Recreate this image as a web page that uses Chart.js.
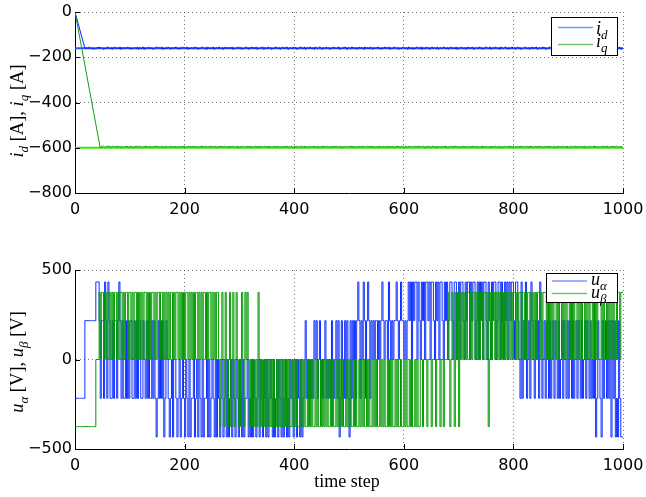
<!DOCTYPE html>
<html><head><meta charset="utf-8">
<script src="https://cdn.jsdelivr.net/npm/chart.js@4/dist/chart.umd.min.js"></script>
<style>
html,body{margin:0;padding:0;background:#fff;}
#wrap{position:relative;width:646px;height:497px;background:#fff;}
#c1{position:absolute;left:0;top:0;width:646px;height:250px;}
#c2{position:absolute;left:0;top:250px;width:646px;height:247px;}
</style></head><body>
<div id="wrap"><canvas id="c1" width="646" height="250"></canvas><canvas id="c2" width="646" height="247"></canvas></div>
<script>
// ---------------- data ----------------
const xTickValues = [0, 200, 400, 600, 800, 1000];
const topYTickValues = [0, -200, -400, -600, -800];
const botYTickValues = [500, 0, -500];

const idReference = -160;
const iqReference = -600;
const idRampTime = [0, 18];
const idRampValue = [0, -160];
const iqRampTime = [0, 46];
const iqRampValue = [0, -600];
// measured current ripple, one code per 2 time steps (4 = centre)
const idNoiseCodes = [
"4536435243546354243564352463543625354463524354362",
"5346253463542436545362435364253546342536453624354",
"3645243564352643536245364352463545362435463524356",
"4253645362435462534635243564352463546235436452436",
"5436245364352643564253463524364535624354632543645",
"3524635426354364253546342536453624356435243564352",
"6435243654362534635246354362453564352463543625346",
"4352463546235436452436543624536435264356425346352",
"4635243564352463546235436452436543624536435264356",
"3625346352436543624536435264356425346352463546235"].join('');
const iqNoiseCodes = [
"5464356453645364526435463546253645364354635462536",
"4635462536453645263546354625364536453625463546354",
"6354625364536452635463546253645364536254635463546",
"3546253645364526354635462536453645362546354635462",
"5364536452635463546253645364536254635463546354625",
"4536452635463546253645364536254635463546354625364",
"5364526354635462536453645362546354635463546253645",
"3645263546354625364536453625463546354635462536453",
"6452635463546253645364536254635463546354625364536",
"45263546354625364536453625"].join('');
const idNoiseBase = -160, idNoiseUnit = 3;
const iqNoiseBase = -596, iqNoiseUnit = 2;

// inverter voltage levels and switching states, one code per 2 time steps
const uAlphaLevels = [-433, -217, 0, 217, 433];
const uBetaLevels = [-375, 0, 375];
const uAlphaCodes = [
"11111111113333333333444313314314311313313431311313",
"13311313133113213131131310131313013210120221012012",
"10210201120120210201120201210202101201202012021021",
"02102011201020210120210120201210201202102012010212",
"01202102012312121213231231212312121321231301321313",
"10313231343132431343132323323234323324323233432343",
"32323434243442432434244342443243424432434234432442",
"34244324344243442342434244324324344234424324342434",
"43244321413241231432132314312313213123132131231321",
"31321312313213123132131213013210312313130313010310"].join('');
const uBetaCodes = [
"00000000000000000000111212212122121212212122121221",
"22121221212121221212122121221221212121221212212121",
"21221212121221212122121221212122101210210120120121",
"01021021210101101021010100101010100101010010101001",
"01010010101001010100101001010101001010010101010010",
"10100101001010100101001010100101010010101001010010",
"01010010100101001101110111011101110110111210121021",
"20121212122121221212122122120121221212122121212212",
"12212122122121221212121221212221212121221212212121",
"22121212212121221212122121212221212212121212212212"].join('');

// ---------------- build series ----------------
function noiseSeries(rampT, rampV, codes, base, unit, tEnd) {
  const pts = rampT.map((t, i) => ({x: t, y: rampV[i]}));
  const t0 = rampT[rampT.length - 1] + 2;
  const n = codes.length;
  for (let i = 0; i < n; i++) {
    pts.push({x: t0 + i * (tEnd - t0) / (n - 1), y: base + (codes.charCodeAt(i) - 52) * unit});
  }
  return pts;
}
function switchSeries(codes, levels) {
  const n = codes.length, dt = 1000 / n, pts = [];
  for (let k = 0; k < n; k++) pts.push({x: k * dt, y: levels[+codes[k]]});
  pts.push({x: 1000, y: levels[+codes[n - 1]]});
  return pts;
}
const idActual = noiseSeries(idRampTime, idRampValue, idNoiseCodes, idNoiseBase, idNoiseUnit, 1000);
const iqActual = noiseSeries(iqRampTime, iqRampValue, iqNoiseCodes, iqNoiseBase, iqNoiseUnit, 1000);
const idRefLine = [{x: 0, y: idReference}, {x: 1000, y: idReference}];
const iqRefLine = [{x: 0, y: iqReference}, {x: 1000, y: iqReference}];
const uAlpha = switchSeries(uAlphaCodes, uAlphaLevels);
const uBeta = switchSeries(uBetaCodes, uBetaLevels);

// ---------------- helpers ----------------
const SERIF = "'Liberation Serif', 'DejaVu Serif', serif";
function fontFor(p, size) {
  const s = p.sub ? Math.round(size * 0.7) : size;
  return (p.it ? 'italic ' : '') + s + 'px ' + SERIF;
}
function drawRich(ctx, parts, x, y, size, align) {
  let w = 0;
  parts.forEach(p => { ctx.font = fontFor(p, size); p.w = ctx.measureText(p.t).width; w += p.w; });
  let cx = align === 'center' ? x - w / 2 : x;
  ctx.textBaseline = 'alphabetic'; ctx.textAlign = 'left'; ctx.fillStyle = '#000';
  parts.forEach(p => { ctx.font = fontFor(p, size); ctx.fillText(p.t, cx, y + (p.sub ? size * 0.27 : 0)); cx += p.w; });
}
const decor = {
  id: 'decor',
  afterDraw(chart, args, opts) {
    const {ctx, chartArea: a, scales: {x, y}} = chart;
    ctx.save();
    // inward tick marks
    ctx.strokeStyle = '#000'; ctx.lineWidth = 1; ctx.beginPath();
    x.ticks.forEach(t => { const px = Math.round(x.getPixelForValue(t.value)) + 0.5; ctx.moveTo(px, a.bottom); ctx.lineTo(px, a.bottom - 5); });
    y.ticks.forEach(t => { const py = Math.round(y.getPixelForValue(t.value)) + 0.5; ctx.moveTo(a.left, py); ctx.lineTo(a.left + 5, py); });
    ctx.stroke();
    // y title (rotated)
    ctx.save();
    ctx.translate(opts.ytitle.x, opts.ytitle.y); ctx.rotate(-Math.PI / 2);
    drawRich(ctx, opts.ytitle.parts, 0, 0, opts.ytitle.size, 'center');
    ctx.restore();
    if (opts.xtitle) drawRich(ctx, opts.xtitle.parts, opts.xtitle.x, opts.xtitle.y, opts.xtitle.size, 'center');
    // legend
    const L = opts.legend;
    ctx.fillStyle = '#fff'; ctx.fillRect(L.box[0], L.box[1], L.box[2], L.box[3]);
    ctx.strokeStyle = '#000'; ctx.lineWidth = 1; ctx.strokeRect(L.box[0], L.box[1], L.box[2], L.box[3]);
    L.items.forEach(it => {
      ctx.strokeStyle = it.color; ctx.lineWidth = 1.5; ctx.beginPath();
      ctx.moveTo(L.lineX[0], it.ly); ctx.lineTo(L.lineX[1], it.ly); ctx.stroke();
      drawRich(ctx, it.parts, L.textX, it.ty, L.size, 'left');
    });
    ctx.restore();
  }
};

Chart.defaults.font.family = "'DejaVu Sans', 'Liberation Sans', sans-serif";
Chart.defaults.font.size = 16;
Chart.defaults.color = '#000';
const gridColor = 'rgba(0,0,0,0.55)';
const fmt = v => String(v).replace('-', '\u2212');

function xScale() {
  return {
    type: 'linear', min: 0, max: 1000,
    afterBuildTicks: s => { s.ticks = xTickValues.map(v => ({value: v})); },
    ticks: {padding: 7, maxRotation: 0, autoSkip: false, callback: fmt},
    grid: {color: gridColor, lineWidth: 1, drawTicks: false, tickLength: 0},
    border: {display: true, color: '#000', width: 1, dash: [1, 3]},
    afterFit: s => { s.height = 30; s.paddingLeft = 0; s.paddingRight = 0; s.paddingTop = 0; s.paddingBottom = 0; }
  };
}
function yScale(min, max, vals) {
  return {
    type: 'linear', min, max,
    afterBuildTicks: s => { s.ticks = vals.map(v => ({value: v})); },
    ticks: {padding: 3, autoSkip: false, callback: fmt},
    grid: {color: gridColor, lineWidth: 1, drawTicks: false, tickLength: 0},
    border: {display: true, color: '#000', width: 1, dash: [1, 3]},
    afterFit: s => { s.width = 75; s.paddingLeft = 0; s.paddingRight = 0; s.paddingTop = 0; s.paddingBottom = 0; }
  };
}
const lineDs = (data, color, width, order, stepped) => ({
  data, borderColor: color, borderWidth: width, pointRadius: 0, fill: false,
  tension: 0, order, stepped: stepped || false, borderJoinStyle: 'miter'
});

new Chart(document.getElementById('c1'), {
  type: 'line',
  data: {datasets: [
    lineDs(iqActual, '#10a010', 1, 0),
    lineDs(idActual, '#0a1eff', 1, 1),
    lineDs(iqRefLine, '#3fe600', 2, 2),
    lineDs(idRefLine, '#2a55ff', 2, 3)
  ]},
  options: {
    responsive: false, animation: false, parsing: false, normalized: true,
    layout: {padding: {left: 0, right: 23, top: 12, bottom: 27}},
    scales: {x: xScale(), y: yScale(-800, 0, topYTickValues)},
    plugins: {
      legend: {display: false}, tooltip: {enabled: false},
      decor: {
        ytitle: {x: 23, y: 111, size: 18.5, parts: [
          {t: 'i', it: 1}, {t: 'd', it: 1, sub: 1}, {t: ' [A], '}, {t: 'i', it: 1}, {t: 'q', it: 1, sub: 1}, {t: ' [A]'}]},
        legend: {box: [551.5, 17.5, 66, 38], lineX: [558, 593], textX: 596, size: 18, items: [
          {color: '#8296ff', ly: 27.5, ty: 34, parts: [{t: 'i', it: 1}, {t: 'd', it: 1, sub: 1}]},
          {color: '#6cc46c', ly: 44.5, ty: 47, parts: [{t: 'i', it: 1}, {t: 'q', it: 1, sub: 1}]}
        ]}
      }
    }
  },
  plugins: [decor]
});

new Chart(document.getElementById('c2'), {
  type: 'line',
  data: {datasets: [
    lineDs(uBeta, '#009a00', 1, 0, 'after'),
    lineDs(uAlpha, '#1030ff', 1, 1, 'after')
  ]},
  options: {
    responsive: false, animation: false, parsing: false, normalized: true,
    layout: {padding: {left: 0, right: 23, top: 20, bottom: 18}},
    scales: {x: xScale(), y: yScale(-500, 500, botYTickValues)},
    plugins: {
      legend: {display: false}, tooltip: {enabled: false},
      decor: {
        ytitle: {x: 23, y: 112, size: 18.5, parts: [
          {t: 'u', it: 1}, {t: 'α', it: 1, sub: 1}, {t: ' [V], '}, {t: 'u', it: 1}, {t: 'β', it: 1, sub: 1}, {t: ' [V]'}]},
        xtitle: {x: 347, y: 237, size: 18, parts: [{t: 'time step'}]},
        legend: {box: [546.5, 23.5, 71, 29], lineX: [552, 587], textX: 591, size: 18, items: [
          {color: '#8296ff', ly: 31, ty: 35, parts: [{t: 'u', it: 1}, {t: 'α', it: 1, sub: 1}]},
          {color: '#6cc46c', ly: 43.5, ty: 48, parts: [{t: 'u', it: 1}, {t: 'β', it: 1, sub: 1}]}
        ]}
      }
    }
  },
  plugins: [decor]
});
</script>
</body></html>
